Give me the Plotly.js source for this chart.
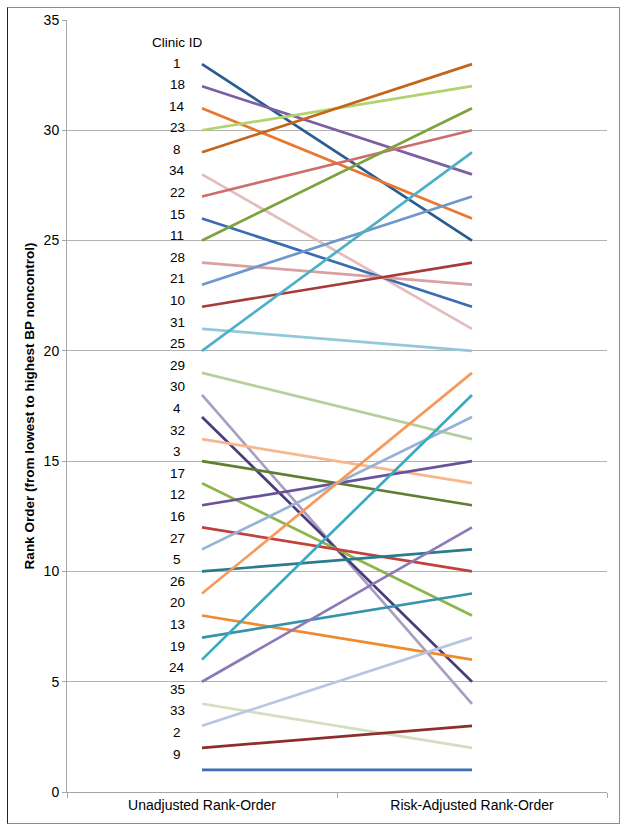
<!DOCTYPE html>
<html>
<head>
<meta charset="utf-8">
<script src="https://cdn.plot.ly/plotly-3.0.1.min.js"></script>
<style>
html,body{margin:0;padding:0;background:#fff;}
#wrap{position:relative;width:626px;height:831px;}
#chart{width:626px;height:831px;}
#frame{position:absolute;left:7px;top:7px;width:611px;height:815px;border:1px solid #8c8c8c;border-left-color:#222;pointer-events:none;}
</style>
</head>
<body>
<div id="wrap"><div id="chart"></div><div id="frame"></div></div>
<script>
// ---- data ----
const categories = ["Unadjusted Rank-Order", "Risk-Adjusted Rank-Order"];
const clinicIds = [1,18,14,23,8,34,22,15,11,28,21,10,31,25,29,30,4,32,3,17,12,16,27,5,26,20,13,19,24,35,33,2,9];
const unadjustedRank = [33,32,31,30,29,28,27,26,25,24,23,22,21,20,19,18,17,16,15,14,13,12,11,10,9,8,7,6,5,4,3,2,1];
const adjustedRank = [25,28,26,32,33,21,30,22,31,23,27,24,20,29,16,4,5,14,13,8,15,10,17,11,19,6,9,18,12,2,7,3,1];
const lineColors = ["#2B5C8F","#7B5EA3","#E8782F","#B0D36E","#C4651C","#E3BCBC","#CC6E6E","#3A6CB2","#7EA23D","#D9A09F","#7097CC","#A63C38","#92C8DA","#4DAFC8","#B5D09A","#A89EC4","#4A3B7A","#F9B78E","#5E7F2F","#8DB54A","#6A529A","#C1413E","#98B2D6","#2C7A8D","#F59A5A","#F08A2E","#3593AB","#3AAAC0","#8D78B8","#D3DFC0","#B8C6E2","#8E2E2B","#3D6DB5"];
const yTicks = [0,5,10,15,20,25,30,35];

const FONT = "Liberation Sans, Arial, sans-serif";

const traces = clinicIds.map((id, i) => ({
  type: "scatter",
  mode: "lines",
  x: categories,
  y: [unadjustedRank[i], adjustedRank[i]],
  line: {color: lineColors[i], width: 2.7},
  name: "Clinic " + id,
  hoverinfo: "skip"
}));

// clinic id labels down the left side
const labelTop = 33.05, labelStep = 0.979;
const annotations = [{
  x: 0, xref: "x", xshift: -25, y: labelTop + 0.92, yref: "y",
  text: "Clinic ID", showarrow: false, font: {family: FONT, size: 13.5, color: "#000"}
}].concat(clinicIds.map((id, i) => ({
  x: 0, xref: "x", xshift: -25, y: labelTop - i * labelStep, yref: "y",
  text: String(id), showarrow: false, font: {family: FONT, size: 13.5, color: "#000"}
})));

const layout = {
  width: 626, height: 831,
  margin: {l: 67, r: 19, t: 20, b: 39},
  paper_bgcolor: "#fff", plot_bgcolor: "#fff",
  showlegend: false,
  font: {family: FONT, size: 14, color: "#000"},
  xaxis: {
    type: "category", range: [-0.5, 1.5],
    tickson: "boundaries", ticks: "outside", ticklen: 5, tickcolor: "#a6a6a6",
    showline: true, linecolor: "#a6a6a6", linewidth: 1,
    showgrid: false, zeroline: false,
    tickfont: {family: FONT, size: 14, color: "#000"}
  },
  yaxis: {
    range: [0, 35], tickvals: yTicks, ticktext: yTicks.map(String),
    ticks: "outside", ticklen: 4, tickcolor: "#a6a6a6",
    showline: true, linecolor: "#a6a6a6", linewidth: 1,
    showgrid: true, gridcolor: "#b3b3b3", gridwidth: 1, zeroline: false,
    tickfont: {family: FONT, size: 14, color: "#000"},
    title: {text: "<b>Rank Order (from lowest to highest BP noncontrol)</b>", font: {family: FONT, size: 13.5, color: "#000"}, standoff: 5}
  },
  annotations: annotations
};

Plotly.newPlot("chart", traces, layout, {staticPlot: true, displayModeBar: false});
</script>
</body>
</html>
